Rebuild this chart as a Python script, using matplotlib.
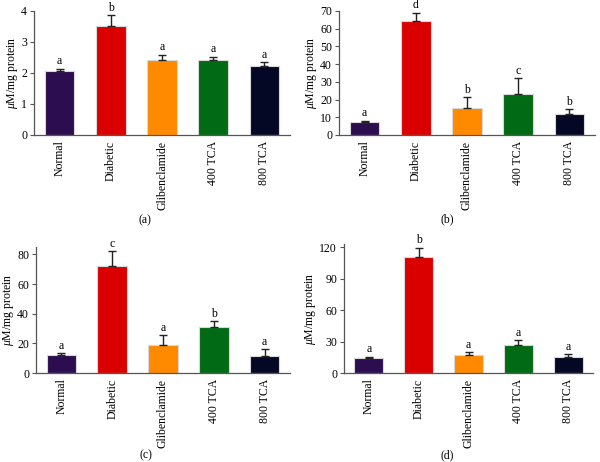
import matplotlib
matplotlib.use('Agg')
import matplotlib.pyplot as plt

plt.rcParams['font.family'] = ['Liberation Serif', 'DejaVu Serif']
plt.rcParams['mathtext.fontset'] = 'custom'
plt.rcParams['mathtext.it'] = 'Liberation Serif:italic'
plt.rcParams['mathtext.rm'] = 'Liberation Serif'

groups = ['Normal', 'Diabetic', 'Glibenclamide', '400 TCA', '800 TCA']
colors = ['#2c0e50', '#db0000', '#ff8a00', '#006b14', '#050824']

a_mean = [2.06, 3.52, 2.42, 2.43, 2.21]
a_err = [0.08, 0.35, 0.17, 0.10, 0.14]
a_letters = ['a', 'b', 'a', 'a', 'a']

b_mean = [7.1, 64.5, 15.2, 23.1, 11.8]
b_err = [1.0, 4.5, 6.0, 8.8, 2.8]
b_letters = ['a', 'd', 'b', 'c', 'b']

c_mean = [11.9, 72.4, 18.8, 30.7, 11.2]
c_err = [1.3, 9.6, 6.8, 4.3, 4.9]
c_letters = ['a', 'c', 'a', 'b', 'a']

d_mean = [14.2, 110.8, 17.4, 26.6, 15.5]
d_err = [1.3, 8.5, 2.5, 4.7, 2.5]
d_letters = ['a', 'b', 'a', 'a', 'a']

W, H = 600, 462
fig = plt.figure(figsize=(6, 4.62), dpi=100)


def panel(box, mean, err, letters, ylim, yticks, tag, tag_xy):
    left, right, top, bottom = box
    ax = fig.add_axes([left / W, 1 - bottom / H, (right - left) / W, (bottom - top) / H])
    x = range(len(groups))
    ax.bar(x, mean, width=0.58, color=colors, edgecolor='#d8d8d8', linewidth=0.8, zorder=2)
    ax.errorbar(x, mean, yerr=[[0] * len(err), err], fmt='none', ecolor='#222222',
                elinewidth=1.0, capsize=3, capthick=1.0, zorder=3)
    off = ylim[1] * 0.012
    for i in x:
        ax.text(i, mean[i] + err[i] + off, letters[i], ha='center', va='bottom', fontsize=8.5)
    ax.set_xlim(-0.5, 4.5)
    ax.set_ylim(*ylim)
    ax.set_yticks(yticks)
    ax.set_xticks(list(x))
    ax.set_xticklabels(groups, rotation=90, fontsize=8.5)
    ax.tick_params(axis='x', length=0, pad=4)
    ax.tick_params(axis='y', length=3, width=0.8, labelsize=8.5, color='#555555', pad=2)
    for s in ['top', 'right']:
        ax.spines[s].set_visible(False)
    for s in ['left', 'bottom']:
        ax.spines[s].set_color('#555555')
        ax.spines[s].set_linewidth(0.9)
    ax.set_ylabel(r'$\mu$M/mg protein', fontsize=8.5, labelpad=1)
    fig.text(tag_xy[0] / W, 1 - tag_xy[1] / H, tag, ha='center', va='center', fontsize=8.5)
    return ax


panel((34, 290, 11, 135), a_mean, a_err, a_letters, (0, 4), [0, 1, 2, 3, 4], '(a)', (145, 220))
panel((339, 595, 11, 135), b_mean, b_err, b_letters, (0, 70), range(0, 71, 10), '(b)', (447, 219))
panel((36, 290, 247, 373), c_mean, c_err, c_letters, (0, 85), [0, 20, 40, 60, 80], '(c)', (146, 455))
panel((344, 593, 244, 373), d_mean, d_err, d_letters, (0, 123), [0, 30, 60, 90, 120], '(d)', (447, 455))

fig.savefig('out.png', dpi=100)
